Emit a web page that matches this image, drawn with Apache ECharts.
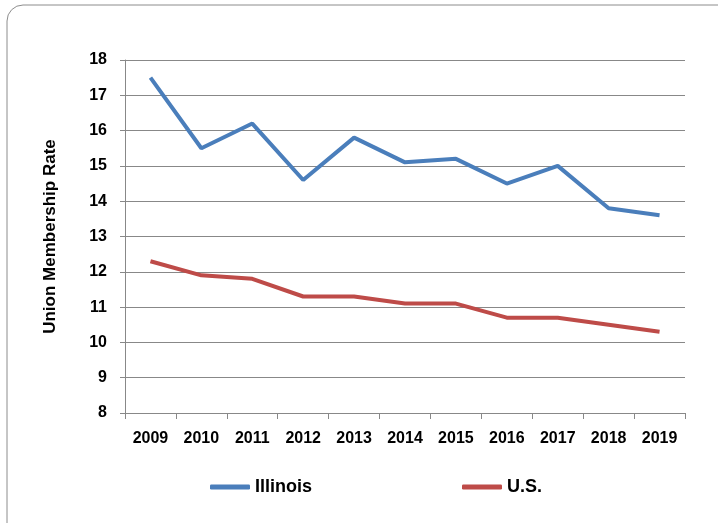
<!DOCTYPE html>
<html><head><meta charset="utf-8">
<script src="https://cdn.jsdelivr.net/npm/echarts@6/dist/echarts.min.js"></script>
<style>html,body{margin:0;padding:0;background:#fff}#c{width:718px;height:523px}</style>
</head><body><div id="c"></div>
<script>
const years = ['2009','2010','2011','2012','2013','2014','2015','2016','2017','2018','2019'];
const illinois = [17.5,15.5,16.2,14.6,15.8,15.1,15.2,14.5,15.0,13.8,13.6];
const us = [12.3,11.9,11.8,11.3,11.3,11.1,11.1,10.7,10.7,10.5,10.3];
const FONT = 'Liberation Sans';
const chart = echarts.init(document.getElementById('c'));
chart.setOption({
  animation:false,
  graphic:[{type:'rect',shape:{x:7,y:5,width:730,height:540,r:16},style:{fill:'none',stroke:'#8c8c8c',lineWidth:1},z:-1}],
  grid:{left:125,right:33,top:60,bottom:110},
  legend:{top:478,left:210,padding:0,itemGap:150,itemWidth:40,itemHeight:5,icon:'roundRect',
    textStyle:{fontFamily:FONT,fontWeight:'bold',fontSize:18,color:'#000'},
    data:[{name:'Illinois'},{name:'U.S.'}]},
  xAxis:{type:'category',data:years,boundaryGap:true,
    axisLine:{lineStyle:{color:'#888',width:1}},
    axisTick:{show:true,length:6,lineStyle:{color:'#888'}},
    axisLabel:{margin:18,fontFamily:FONT,fontWeight:'bold',fontSize:16,color:'#000'}},
  yAxis:{type:'value',min:8,max:18,interval:1,
    name:'Union Membership Rate',nameLocation:'middle',nameGap:66,
    nameTextStyle:{fontFamily:FONT,fontWeight:'bold',fontSize:17,color:'#000'},
    axisLine:{show:true,lineStyle:{color:'#888',width:1}},
    axisTick:{show:true,length:5,lineStyle:{color:'#888'}},
    splitLine:{lineStyle:{color:'#888',width:1}},
    axisLabel:{margin:18,fontFamily:FONT,fontWeight:'bold',fontSize:16,color:'#000'}},
  series:[
    {name:'Illinois',type:'line',data:illinois,symbol:'none',lineStyle:{color:'#4a7ebb',width:4},itemStyle:{color:'#4a7ebb'}},
    {name:'U.S.',type:'line',data:us,symbol:'none',lineStyle:{color:'#be4b48',width:4},itemStyle:{color:'#be4b48'}}
  ]
});
</script></body></html>
